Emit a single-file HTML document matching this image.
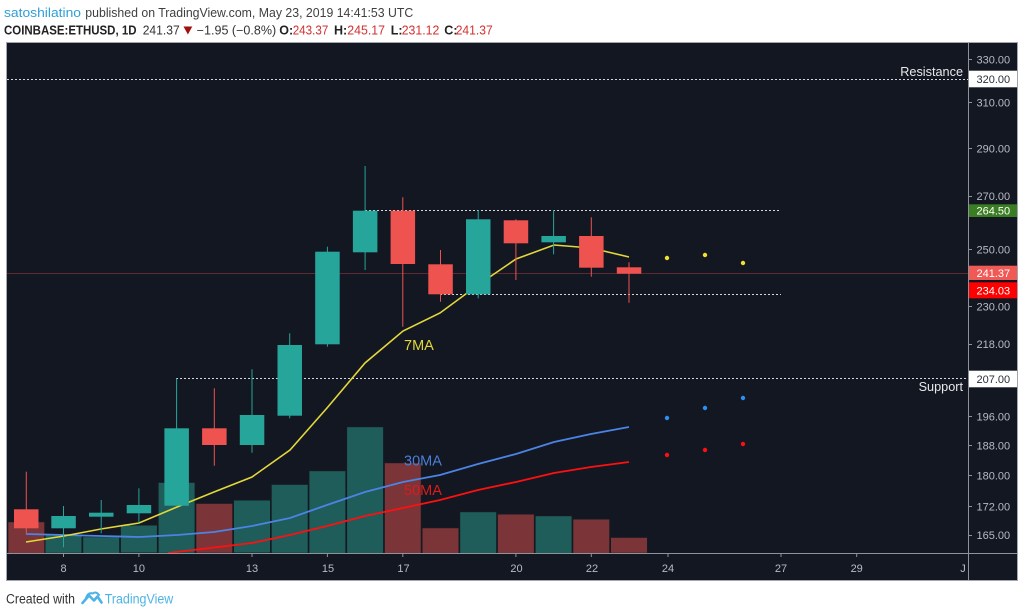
<!DOCTYPE html>
<html><head><meta charset="utf-8">
<style>
html,body{margin:0;padding:0;background:#fff;width:1024px;height:616px;overflow:hidden}
svg{display:block;font-family:"Liberation Sans",sans-serif}
</style></head>
<body>
<svg width="1024" height="616" viewBox="0 0 1024 616" xmlns="http://www.w3.org/2000/svg">
<defs>
<clipPath id="plot"><rect x="7" y="43" width="961" height="510"/></clipPath>
</defs>
<!-- header -->
<text x="4" y="17" font-size="12.5" fill="#2f9fd8" textLength="77" lengthAdjust="spacingAndGlyphs">satoshilatino</text>
<text x="85.3" y="17" font-size="12.5" fill="#404040" textLength="328" lengthAdjust="spacingAndGlyphs">published on TradingView.com, May 23, 2019 14:41:53 UTC</text>
<text x="4" y="34.5" font-size="12.5" font-weight="bold" fill="#222" textLength="132.5" lengthAdjust="spacingAndGlyphs">COINBASE:ETHUSD, 1D</text>
<text x="142.7" y="34.5" font-size="12.5" fill="#333" textLength="37" lengthAdjust="spacingAndGlyphs">241.37</text>
<polygon points="183.5,26.5 192.3,26.5 187.9,34.5" fill="#a10f0f"/>
<text x="196.7" y="34.5" font-size="12.5" fill="#333" textLength="79.5" lengthAdjust="spacingAndGlyphs">−1.95 (−0.8%)</text>
<text x="279.3" y="34.5" font-size="12.5" font-weight="bold" fill="#222">O:</text>
<text x="292.7" y="34.5" font-size="12.5" fill="#d32f2f" textLength="35.6" lengthAdjust="spacingAndGlyphs">243.37</text>
<text x="334" y="34.5" font-size="12.5" font-weight="bold" fill="#222">H:</text>
<text x="347.3" y="34.5" font-size="12.5" fill="#d32f2f" textLength="37.7" lengthAdjust="spacingAndGlyphs">245.17</text>
<text x="390.7" y="34.5" font-size="12.5" font-weight="bold" fill="#222">L:</text>
<text x="401.7" y="34.5" font-size="12.5" fill="#d32f2f" textLength="37.6" lengthAdjust="spacingAndGlyphs">231.12</text>
<text x="444.3" y="34.5" font-size="12.5" font-weight="bold" fill="#222">C:</text>
<text x="455.7" y="34.5" font-size="12.5" fill="#d32f2f" textLength="37" lengthAdjust="spacingAndGlyphs">241.37</text>

<!-- chart frame -->
<rect x="6.5" y="42.5" width="1011" height="538" fill="#131722" stroke="#a3a6ae" stroke-width="1"/>

<g clip-path="url(#plot)">
<!-- volume -->
<g stroke="#141a22" stroke-width="1">
<rect x="7.8" y="521.7" width="37" height="32" fill="#7b3438"/>
<rect x="45.0" y="534.3" width="37" height="19" fill="#1e5d59"/>
<rect x="82.7" y="536.7" width="37" height="17" fill="#1e5d59"/>
<rect x="120.4" y="525" width="37" height="28" fill="#1e5d59"/>
<rect x="158.1" y="482.3" width="37" height="71" fill="#1e5d59"/>
<rect x="195.8" y="503.3" width="37" height="50" fill="#7b3438"/>
<rect x="233.5" y="500" width="37" height="53" fill="#1e5d59"/>
<rect x="271.2" y="484.3" width="37" height="69" fill="#1e5d59"/>
<rect x="308.9" y="470.7" width="37" height="83" fill="#1e5d59"/>
<rect x="346.6" y="426.7" width="37" height="127" fill="#1e5d59"/>
<rect x="384.3" y="462.7" width="37" height="91" fill="#7b3438"/>
<rect x="422.0" y="527.7" width="37" height="26" fill="#7b3438"/>
<rect x="459.7" y="511.7" width="37" height="42" fill="#1e5d59"/>
<rect x="497.4" y="514" width="37" height="40" fill="#7b3438"/>
<rect x="535.1" y="515.7" width="37" height="38" fill="#1e5d59"/>
<rect x="572.8" y="519" width="37" height="35" fill="#7b3438"/>
<rect x="610.5" y="537.3" width="37" height="16" fill="#7b3438"/>
</g>

<!-- horizontal lines -->
<line x1="7" y1="273.5" x2="968" y2="273.5" stroke="#5e2a32" stroke-width="1"/>
<line x1="7" y1="79.5" x2="968" y2="79.5" stroke="#d6d8de" stroke-width="1" stroke-dasharray="2,2"/>
<line x1="176" y1="378.5" x2="968" y2="378.5" stroke="#d6d8de" stroke-width="1" stroke-dasharray="2,2"/>
<line x1="365" y1="210.5" x2="781" y2="210.5" stroke="#d6d8de" stroke-width="1" stroke-dasharray="2,2"/>
<line x1="440" y1="294.5" x2="781" y2="294.5" stroke="#d6d8de" stroke-width="1" stroke-dasharray="2,2"/>

<!-- MAs -->
<polyline fill="none" stroke="#ff1010" stroke-width="1.8" points="168,553 214,547.5 252,543 290,535 327,526 365,516 403,508 440,500 478,490 516,482 554,473 591,467 629,462"/>
<polyline fill="none" stroke="#4b84e4" stroke-width="1.8" points="26,534 64,535 101,536 139,537 177,535 214,532 252,526 290,518 327,505 365,492 403,482 440,475 478,464 516,454 554,442 591,434 629,427"/>
<polyline fill="none" stroke="#e3d83a" stroke-width="1.6" points="26,542 64,536 101,529 139,523 177,507 214,492 252,477 290,450 327,408 365,363 403,331 440,313 478,285 516,259 554,245 591,248 629,257"/>

<!-- candles -->
<g stroke-width="1">
<!-- 7 -->
<line x1="26.3" y1="471.7" x2="26.3" y2="533.3" stroke="#ef5350"/>
<rect x="14" y="509.3" width="24.5" height="19" fill="#ef5350"/>
<!-- 8 -->
<line x1="63.5" y1="506" x2="63.5" y2="547.3" stroke="#26a69a"/>
<rect x="51.3" y="516" width="24.5" height="12.3" fill="#26a69a"/>
<!-- 9 -->
<line x1="101.2" y1="500" x2="101.2" y2="533.3" stroke="#26a69a"/>
<rect x="89" y="512.7" width="24.5" height="4" fill="#26a69a"/>
<!-- 10 -->
<line x1="138.9" y1="488.3" x2="138.9" y2="522.7" stroke="#26a69a"/>
<rect x="126.7" y="505" width="24.5" height="8.3" fill="#26a69a"/>
<!-- 11 -->
<line x1="176.6" y1="378.3" x2="176.6" y2="505.7" stroke="#26a69a"/>
<rect x="164.4" y="428.3" width="24.5" height="77.4" fill="#26a69a"/>
<!-- 12 -->
<line x1="214.3" y1="388.3" x2="214.3" y2="465.7" stroke="#ef5350"/>
<rect x="202.1" y="428.3" width="24.5" height="16.7" fill="#ef5350"/>
<!-- 13 -->
<line x1="252" y1="369.3" x2="252" y2="452.7" stroke="#26a69a"/>
<rect x="239.8" y="415" width="24.5" height="30" fill="#26a69a"/>
<!-- 14 -->
<line x1="289.7" y1="333.3" x2="289.7" y2="418.3" stroke="#26a69a"/>
<rect x="277.5" y="345" width="24.5" height="70.7" fill="#26a69a"/>
<!-- 15 -->
<line x1="327.4" y1="246.7" x2="327.4" y2="346.7" stroke="#26a69a"/>
<rect x="315.2" y="251.7" width="24.5" height="92.6" fill="#26a69a"/>
<!-- 16 -->
<line x1="365.1" y1="166" x2="365.1" y2="270" stroke="#26a69a"/>
<rect x="352.9" y="210.7" width="24.5" height="41.6" fill="#26a69a"/>
<!-- 17 -->
<line x1="402.8" y1="197.3" x2="402.8" y2="326.7" stroke="#ef5350"/>
<rect x="390.6" y="210.7" width="24.5" height="53.3" fill="#ef5350"/>
<!-- 18 -->
<line x1="440.5" y1="250" x2="440.5" y2="301.7" stroke="#ef5350"/>
<rect x="428.3" y="264.3" width="24.5" height="30" fill="#ef5350"/>
<!-- 19 -->
<line x1="478.2" y1="210" x2="478.2" y2="298.3" stroke="#26a69a"/>
<rect x="466" y="219.3" width="24.5" height="75" fill="#26a69a"/>
<!-- 20 -->
<line x1="515.9" y1="219.3" x2="515.9" y2="280" stroke="#ef5350"/>
<rect x="503.7" y="220.3" width="24.5" height="23" fill="#ef5350"/>
<!-- 21 -->
<line x1="553.6" y1="210" x2="553.6" y2="254.3" stroke="#26a69a"/>
<rect x="541.4" y="236" width="24.5" height="6.3" fill="#26a69a"/>
<!-- 22 -->
<line x1="591.3" y1="217.3" x2="591.3" y2="276.7" stroke="#ef5350"/>
<rect x="579.1" y="236" width="24.5" height="31.7" fill="#ef5350"/>
<!-- 23 -->
<line x1="629" y1="262.3" x2="629" y2="302.7" stroke="#ef5350"/>
<rect x="616.8" y="267.3" width="24.5" height="6.4" fill="#ef5350"/>
</g>

<!-- forecast dots -->
<circle cx="667" cy="258" r="2.2" fill="#f0e030"/>
<circle cx="705" cy="255" r="2.2" fill="#f0e030"/>
<circle cx="743" cy="263" r="2.2" fill="#f0e030"/>
<circle cx="667" cy="418" r="2.2" fill="#2d8ff0"/>
<circle cx="705" cy="408" r="2.2" fill="#2d8ff0"/>
<circle cx="743" cy="398" r="2.2" fill="#2d8ff0"/>
<circle cx="667" cy="455" r="2.2" fill="#ff1010"/>
<circle cx="705" cy="450" r="2.2" fill="#ff1010"/>
<circle cx="743" cy="444" r="2.2" fill="#ff1010"/>

<!-- labels -->
<text x="404" y="350" font-size="14.5" fill="#e3d83a">7MA</text>
<text x="404" y="465.7" font-size="14.5" fill="#4a7fd6">30MA</text>
<text x="404" y="495" font-size="14.5" fill="#dc1c1c">50MA</text>
<text x="963" y="76" font-size="12.7" fill="#e8e9ec" text-anchor="end">Resistance</text>
<text x="963" y="391" font-size="12.7" fill="#e8e9ec" text-anchor="end">Support</text>
</g>

<!-- axis separators -->
<line x1="968.5" y1="43" x2="968.5" y2="580" stroke="#8f929a" stroke-width="1"/>
<line x1="7" y1="553.5" x2="1017" y2="553.5" stroke="#8f929a" stroke-width="1"/>

<!-- price ticks -->
<g stroke="#8f929a" stroke-width="1">
<line x1="968" y1="59.5" x2="972" y2="59.5"/>
<line x1="968" y1="102.5" x2="972" y2="102.5"/>
<line x1="968" y1="148.5" x2="972" y2="148.5"/>
<line x1="968" y1="196.5" x2="972" y2="196.5"/>
<line x1="968" y1="249.5" x2="972" y2="249.5"/>
<line x1="968" y1="306.5" x2="972" y2="306.5"/>
<line x1="968" y1="344.5" x2="972" y2="344.5"/>
<line x1="968" y1="416.5" x2="972" y2="416.5"/>
<line x1="968" y1="445.5" x2="972" y2="445.5"/>
<line x1="968" y1="475.5" x2="972" y2="475.5"/>
<line x1="968" y1="506.5" x2="972" y2="506.5"/>
<line x1="968" y1="535.5" x2="972" y2="535.5"/>
</g>
<g font-size="11" fill="#b8bbc3">
<text x="976.5" y="63.3">330.00</text>
<text x="976.5" y="106.3">310.00</text>
<text x="976.5" y="152.3">290.00</text>
<text x="976.5" y="200">270.00</text>
<text x="976.5" y="253.7">250.00</text>
<text x="976.5" y="310.7">230.00</text>
<text x="976.5" y="348">218.00</text>
<text x="976.5" y="420.7">196.00</text>
<text x="976.5" y="449.3">188.00</text>
<text x="976.5" y="479.7">180.00</text>
<text x="976.5" y="510.7">172.00</text>
<text x="976.5" y="539">165.00</text>
</g>
<!-- price boxes -->
<rect x="969" y="70.7" width="48" height="16.6" fill="#ffffff"/>
<text x="976.5" y="83" font-size="11" fill="#2a2e39">320.00</text>
<rect x="969" y="204.3" width="48" height="12.7" fill="#3b7d22"/>
<text x="976.5" y="214.7" font-size="11" fill="#ffffff">264.50</text>
<rect x="969" y="265.7" width="48" height="14.3" fill="#ef5a57"/>
<text x="976.5" y="276.8" font-size="11" fill="#ffffff">241.37</text>
<rect x="969" y="282.3" width="48" height="16" fill="#ff0000"/>
<text x="976.5" y="294.3" font-size="11" fill="#ffffff">234.03</text>
<rect x="969" y="370.7" width="48" height="16.6" fill="#ffffff"/>
<text x="976.5" y="382.8" font-size="11" fill="#2a2e39">207.00</text>

<!-- time axis -->
<g stroke="#8f929a" stroke-width="1">
<line x1="63.5" y1="553" x2="63.5" y2="557"/>
<line x1="138.9" y1="553" x2="138.9" y2="557"/>
<line x1="252" y1="553" x2="252" y2="557"/>
<line x1="327.4" y1="553" x2="327.4" y2="557"/>
<line x1="402.8" y1="553" x2="402.8" y2="557"/>
<line x1="515.9" y1="553" x2="515.9" y2="557"/>
<line x1="591.3" y1="553" x2="591.3" y2="557"/>
<line x1="668" y1="553" x2="668" y2="557"/>
<line x1="781" y1="553" x2="781" y2="557"/>
<line x1="856.7" y1="553" x2="856.7" y2="557"/>
</g>
<g font-size="11" fill="#b8bbc3" text-anchor="middle">
<text x="63.5" y="572">8</text>
<text x="138.9" y="572">10</text>
<text x="252" y="572">13</text>
<text x="328" y="572">15</text>
<text x="403.5" y="572">17</text>
<text x="516.5" y="572">20</text>
<text x="592" y="572">22</text>
<text x="668" y="572">24</text>
<text x="781" y="572">27</text>
<text x="856.7" y="572">29</text>
<text x="963" y="572">J</text>
</g>

<!-- footer -->
<text x="6" y="603.5" font-size="13.5" fill="#333" textLength="69" lengthAdjust="spacingAndGlyphs">Created with</text>
<g fill="none" stroke="#4db3e6" stroke-width="2.6" stroke-linejoin="round" stroke-linecap="round">
<path d="M82.5,603 L89,595.5 L94,600.5 L97.5,596.5 L101.5,602.5"/>
<path d="M86,598 Q88,592 93,593.5 Q96,591 99,595" stroke-width="2"/>
</g>
<text x="104.7" y="603.5" font-size="13.5" fill="#4db3e6" textLength="68.6" lengthAdjust="spacingAndGlyphs">TradingView</text>
</svg>
</body></html>
